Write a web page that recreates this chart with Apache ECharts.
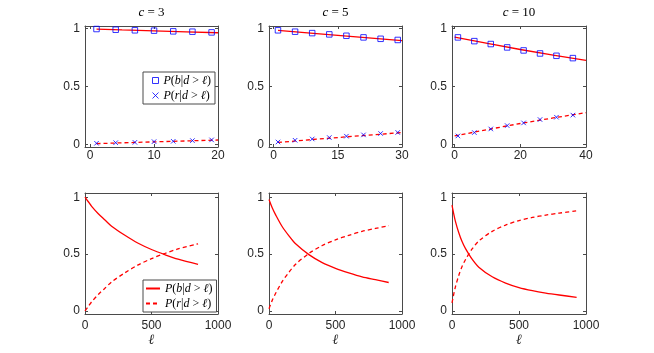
<!DOCTYPE html>
<html>
<head>
<meta charset="utf-8">
<script src="https://cdn.jsdelivr.net/npm/echarts@6/dist/echarts.min.js"></script>
<style>
  html, body { margin: 0; padding: 0; background: #fff; }
  #main { width: 654px; height: 353px; }
</style>
</head>
<body>
<div id="main"></div>
<script>
// top row: simulated points (markers) and theory (lines), x = l
var simX3 = [1, 4, 7, 10, 13, 16, 19];
var simB3 = [0.994, 0.988, 0.983, 0.980, 0.974, 0.971, 0.965];
var simR3 = [0.012, 0.017, 0.020, 0.026, 0.029, 0.035, 0.041];
var thX3 = [1, 5, 10, 15, 20];
var thB3 = [0.993, 0.986, 0.978, 0.970, 0.962];
var thR3 = [0.009, 0.016, 0.024, 0.032, 0.040];

var simX5 = [1, 5, 9, 13, 17, 21, 25, 29];
var simB5 = [0.983, 0.971, 0.959, 0.948, 0.936, 0.922, 0.910, 0.900];
var simR5 = [0.023, 0.038, 0.049, 0.061, 0.073, 0.084, 0.096, 0.105];
var thX5 = [1, 10, 20, 30];
var thB5 = [0.982, 0.955, 0.925, 0.895];
var thR5 = [0.019, 0.047, 0.076, 0.104];

var simX10 = [1, 6, 11, 16, 21, 26, 31, 36];
var simB10 = [0.922, 0.890, 0.865, 0.836, 0.810, 0.784, 0.764, 0.744];
var simR10 = [0.075, 0.104, 0.135, 0.164, 0.187, 0.216, 0.236, 0.254];
var thX10 = [0, 10, 20, 30, 40];
var thB10 = [0.925, 0.870, 0.818, 0.770, 0.725];
var thR10 = [0.075, 0.130, 0.182, 0.230, 0.275];

// bottom row: long range curves
var lX3 = [0, 25, 50, 100, 150, 200, 300, 400, 500, 600, 700, 850];
var lB3 = [1.0, 0.96, 0.92, 0.855, 0.80, 0.745, 0.665, 0.595, 0.54, 0.495, 0.455, 0.41];
var lR3 = [0.0, 0.04, 0.08, 0.145, 0.20, 0.255, 0.335, 0.405, 0.46, 0.505, 0.545, 0.59];

var lX5 = [0, 25, 50, 100, 150, 200, 300, 400, 500, 600, 700, 800, 900];
var lB5 = [0.98, 0.905, 0.845, 0.74, 0.66, 0.59, 0.495, 0.425, 0.375, 0.335, 0.30, 0.275, 0.25];
var lR5 = [0.02, 0.095, 0.155, 0.26, 0.34, 0.41, 0.505, 0.575, 0.625, 0.665, 0.70, 0.725, 0.75];

var lX10 = [0, 10, 25, 50, 75, 100, 150, 200, 300, 400, 500, 600, 700, 800, 930];
var lB10 = [0.93, 0.87, 0.79, 0.69, 0.61, 0.55, 0.455, 0.385, 0.30, 0.245, 0.205, 0.178, 0.157, 0.14, 0.12];
var lR10 = [0.07, 0.13, 0.21, 0.31, 0.39, 0.45, 0.545, 0.615, 0.70, 0.755, 0.795, 0.822, 0.843, 0.86, 0.88];

var xTicksTop = [[0, 10, 20], [0, 15, 30], [0, 20, 40]];
var xTicksBottom = [0, 500, 1000];
var yTicks = [0, 0.5, 1];

function zip(xs, ys) {
    return xs.map(function (x, i) { return [x, ys[i]]; });
}

var chart = echarts.init(document.getElementById('main'));

var axisColor = '#4a4a4a';
var textColor = '#262626';
var red = '#ff0000', blue = '#0000ff';
var crossPath = 'path://M0,0L10,10M10,0L0,10';

var panels = [
    {grid: {left: 85, top: 26, width: 133, height: 121}, xmin: -0.8, xmax: 20, ticks: xTicksTop[0], ymin: -0.02, ymax: 1.02, c: '3'},
    {grid: {left: 269, top: 26, width: 133, height: 121}, xmin: -1.1, xmax: 30, ticks: xTicksTop[1], ymin: -0.02, ymax: 1.02, c: '5'},
    {grid: {left: 452, top: 26, width: 134, height: 121}, xmin: -0.8, xmax: 40, ticks: xTicksTop[2], ymin: -0.02, ymax: 1.02, c: '10'},
    {grid: {left: 85, top: 193, width: 133, height: 121}, xmin: 0, xmax: 1000, ticks: xTicksBottom, ymin: -0.027, ymax: 1.037, xname: 'ℓ'},
    {grid: {left: 269, top: 193, width: 133, height: 121}, xmin: 0, xmax: 1000, ticks: xTicksBottom, ymin: -0.027, ymax: 1.037, xname: 'ℓ'},
    {grid: {left: 452, top: 193, width: 134, height: 121}, xmin: 0, xmax: 1000, ticks: xTicksBottom, ymin: -0.027, ymax: 1.037, xname: 'ℓ'}
];

var plain = function (v) { return String(v); };

var grids = [], xAxes = [], yAxes = [];
panels.forEach(function (p, i) {
    grids.push(p.grid);
    var bottomRow = i >= 3;
    xAxes.push({
        type: 'value', gridIndex: i, position: 'bottom', min: p.xmin, max: p.xmax,
        axisLine: {show: true, onZero: false, lineStyle: {color: axisColor, width: 1}},
        axisTick: {show: true, inside: true, length: 3, customValues: p.ticks, lineStyle: {color: axisColor}},
        axisLabel: {customValues: p.ticks, formatter: plain, color: textColor, fontSize: 12, fontFamily: 'Liberation Sans', margin: bottomRow ? 6 : 3},
        splitLine: {show: false},
        name: p.xname || '', nameLocation: 'middle', nameGap: 18,
        nameTextStyle: {fontFamily: 'Liberation Serif', fontStyle: 'italic', fontSize: 14, color: textColor}
    });
    xAxes.push({
        type: 'value', gridIndex: i, position: 'top', min: p.xmin, max: p.xmax,
        axisLine: {show: true, onZero: false, lineStyle: {color: axisColor, width: 1}},
        axisTick: {show: true, inside: true, length: 3, customValues: p.ticks, lineStyle: {color: axisColor}},
        axisLabel: {show: false},
        splitLine: {show: false},
        name: p.c ? '{i|c} = ' + p.c : '',
        nameLocation: 'middle', nameGap: 7,
        nameTextStyle: {
            fontFamily: 'Liberation Serif', fontSize: 13, color: '#000', verticalAlign: 'bottom',
            rich: {i: {fontFamily: 'Liberation Serif', fontStyle: 'italic', fontSize: 13, color: '#000'}}
        }
    });
    yAxes.push({
        type: 'value', gridIndex: i, position: 'left', min: p.ymin, max: p.ymax,
        axisLine: {show: true, onZero: false, lineStyle: {color: axisColor, width: 1}},
        axisTick: {show: true, inside: true, length: 3, customValues: yTicks, lineStyle: {color: axisColor}},
        axisLabel: {customValues: yTicks, formatter: plain, color: textColor, fontSize: 12, fontFamily: 'Liberation Sans', margin: 5},
        splitLine: {show: false}
    });
    yAxes.push({
        type: 'value', gridIndex: i, position: 'right', min: p.ymin, max: p.ymax,
        axisLine: {show: true, onZero: false, lineStyle: {color: axisColor, width: 1}},
        axisTick: {show: true, inside: true, length: 3, customValues: yTicks, lineStyle: {color: axisColor}},
        axisLabel: {show: false},
        splitLine: {show: false}
    });
});

function lineSeries(name, i, data, dashed) {
    return {
        name: name, type: 'line', xAxisIndex: 2 * i, yAxisIndex: 2 * i,
        data: data, symbol: 'none', smooth: i >= 3 ? 0.3 : false, silent: true,
        lineStyle: {color: red, width: 1.3, type: dashed ? [4, 3] : 'solid'},
        itemStyle: {color: red}
    };
}
function markerSeries(name, i, data, cross) {
    return {
        name: name, type: 'scatter', xAxisIndex: 2 * i, yAxisIndex: 2 * i,
        data: data, symbol: cross ? crossPath : 'rect', symbolSize: cross ? 4.5 : 5.5, silent: true,
        itemStyle: {color: cross ? blue : 'none', borderColor: blue, borderWidth: 1}, z: 3
    };
}

var series = [
    lineSeries('tb3', 0, zip(thX3, thB3), false),
    lineSeries('tr3', 0, zip(thX3, thR3), true),
    markerSeries('sb', 0, zip(simX3, simB3), false),
    markerSeries('sr', 0, zip(simX3, simR3), true),
    lineSeries('tb5', 1, zip(thX5, thB5), false),
    lineSeries('tr5', 1, zip(thX5, thR5), true),
    markerSeries('sb5', 1, zip(simX5, simB5), false),
    markerSeries('sr5', 1, zip(simX5, simR5), true),
    lineSeries('tb10', 2, zip(thX10, thB10), false),
    lineSeries('tr10', 2, zip(thX10, thR10), true),
    markerSeries('sb10', 2, zip(simX10, simB10), false),
    markerSeries('sr10', 2, zip(simX10, simR10), true),
    lineSeries('lb', 3, zip(lX3, lB3), false),
    lineSeries('lr', 3, zip(lX3, lR3), true),
    lineSeries('lb5', 4, zip(lX5, lB5), false),
    lineSeries('lr5', 4, zip(lX5, lR5), true),
    lineSeries('lb10', 5, zip(lX10, lB10), false),
    lineSeries('lr10', 5, zip(lX10, lR10), true)
];

var legendLabels = {
    sb: '{i|P}({i|b}|{i|d} > {i|ℓ})',
    sr: '{i|P}({i|r}|{i|d} > {i|ℓ})',
    lb: '{i|P}({i|b}|{i|d} > {i|ℓ})',
    lr: '{i|P}({i|r}|{i|d} > {i|ℓ})'
};
var legendText = {
    fontFamily: 'Liberation Serif', fontSize: 12, color: '#000', lineHeight: 13,
    rich: {i: {fontFamily: 'Liberation Serif', fontStyle: 'italic', fontSize: 12, color: '#000', lineHeight: 13}}
};

chart.setOption({
    animation: false,
    grid: grids,
    xAxis: xAxes,
    yAxis: yAxes,
    legend: [
        {
            left: 143, top: 72, orient: 'vertical', itemGap: 2,
            padding: [2, 4, 2, 7], itemWidth: 6, itemHeight: 6, itemTextGap: 5,
            borderColor: axisColor, borderWidth: 1, backgroundColor: '#fff',
            selectedMode: false, textStyle: legendText,
            formatter: function (n) { return legendLabels[n]; },
            data: [
                {name: 'sb', icon: 'rect', itemStyle: {color: 'none', borderColor: blue, borderWidth: 1}},
                {name: 'sr', icon: crossPath, itemStyle: {color: blue, borderColor: blue, borderWidth: 1}}
            ]
        },
        {
            left: 143, top: 280, orient: 'vertical', itemGap: 2,
            padding: [2, 4, 2, 2], itemWidth: 14, itemHeight: 8, itemTextGap: 3,
            borderColor: axisColor, borderWidth: 1, backgroundColor: '#fff',
            selectedMode: false, textStyle: legendText,
            formatter: function (n) { return legendLabels[n]; },
            data: [
                {name: 'lb', itemStyle: {opacity: 0}},
                {name: 'lr', itemStyle: {opacity: 0}}
            ]
        }
    ],
    series: series
});
</script>
</body>
</html>
